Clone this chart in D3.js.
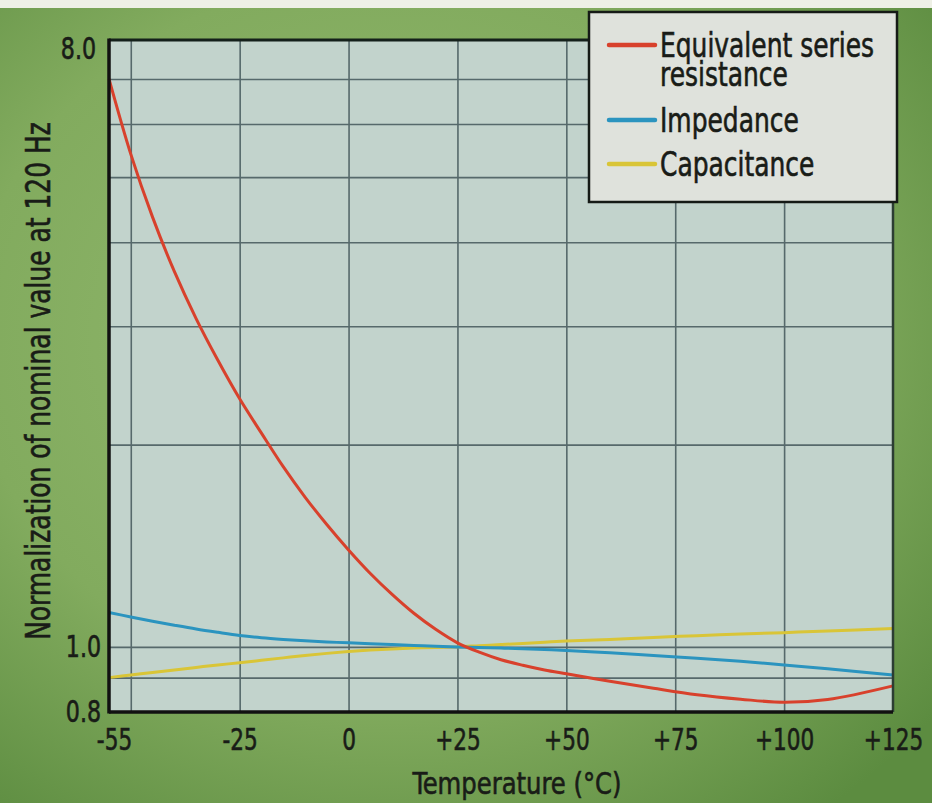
<!DOCTYPE html>
<html>
<head>
<meta charset="utf-8">
<script src="https://cdn.jsdelivr.net/npm/d3@7"></script>
<style>
  body { margin: 0; padding: 0; background: #7fa85e; }
  svg { display: block; }
  text {
    font-family: "Liberation Sans Narrow", "DejaVu Sans Condensed", "Roboto", sans-serif;
    fill: #191c17;
    stroke: #191c17;
    stroke-width: 0.6px;
  }
</style>
</head>
<body>
<div id="chart"></div>
<script>
// temperature in degC (x)
const temps = [-55, -50, -45, -40, -35, -30, -25, -20, -15, -10, -5, 0, 5, 10, 15, 20, 25, 30, 35, 40, 45, 50, 60, 70, 80, 90, 100, 110, 125];
// normalised values at 120 Hz, one per temperature
const esrValues = [7.0, 5.41, 4.36, 3.62, 3.08, 2.67, 2.34, 2.08, 1.854, 1.671, 1.521, 1.394, 1.286, 1.197, 1.122, 1.062, 1.014, 0.982, 0.957, 0.939, 0.924, 0.912, 0.889, 0.868, 0.849, 0.836, 0.827, 0.835, 0.875];
const impedanceValues = [1.125, 1.108, 1.092, 1.077, 1.063, 1.051, 1.04, 1.032, 1.026, 1.021, 1.017, 1.014, 1.011, 1.008, 1.005, 1.002, 1.0, 0.998, 0.996, 0.994, 0.991, 0.988, 0.98, 0.971, 0.962, 0.952, 0.94, 0.928, 0.908];
const capacitanceValues = [0.9, 0.908, 0.916, 0.924, 0.932, 0.94, 0.947, 0.955, 0.963, 0.971, 0.978, 0.984, 0.989, 0.993, 0.996, 0.998, 1.0, 1.004, 1.008, 1.012, 1.016, 1.02, 1.026, 1.033, 1.039, 1.045, 1.05, 1.056, 1.065];

const xTickLabels = [-55, -25, 0, 25, 50, 75, 100, 125];
const yTickLabels = [0.8, 1.0, 8.0];
const xGridValues = [-50, -25, 0, 25, 50, 75, 100];
const yGridValues = [0.9, 1, 2, 3, 4, 5, 6, 7];

const W = 932, H = 803;
const margin = { top: 40, right: 39, bottom: 91, left: 109 };
const innerW = W - margin.left - margin.right;
const innerH = H - margin.top - margin.bottom;

const colors = ["#d8412c", "#2b94bf", "#d9c537"];

// squeeze text to the narrow face of the original
function squeeze(sel, factor) {
  sel.each(function () {
    const w = this.getComputedTextLength();
    d3.select(this)
      .attr("textLength", w * factor)
      .attr("lengthAdjust", "spacingAndGlyphs");
  });
}

const svg = d3.select("#chart").append("svg")
  .attr("width", W)
  .attr("height", H);

// background - green page with darker edges
const defs = svg.append("defs");
const bg = defs.append("radialGradient").attr("id", "bg")
  .attr("cx", "42%").attr("cy", "42%").attr("r", "75%");
bg.append("stop").attr("offset", "0%").attr("stop-color", "#93b96f");
bg.append("stop").attr("offset", "60%").attr("stop-color", "#82ab5e");
bg.append("stop").attr("offset", "100%").attr("stop-color", "#5c8c40");

svg.append("rect").attr("width", W).attr("height", H).attr("fill", "url(#bg)");
svg.append("rect").attr("width", W).attr("height", 8).attr("fill", "#eef0e6");

const g = svg.append("g")
  .attr("transform", "translate(" + margin.left + "," + margin.top + ")");

const x = d3.scaleLinear().domain([-55, 125]).range([0, innerW]);
const y = d3.scaleLog().domain([0.8, 8]).range([innerH, 0]);

// plot area
g.append("rect")
  .attr("width", innerW)
  .attr("height", innerH)
  .attr("fill", "#c2d3cc");

// grid
g.append("g")
  .attr("class", "grid")
  .call(d3.axisLeft(y).tickValues(yGridValues).tickSize(-innerW).tickFormat(""))
  .call((s) => s.select(".domain").remove());
g.append("g")
  .attr("class", "grid")
  .attr("transform", "translate(0," + innerH + ")")
  .call(d3.axisBottom(x).tickValues(xGridValues).tickSize(-innerH).tickFormat(""))
  .call((s) => s.select(".domain").remove());
g.selectAll(".grid line")
  .attr("stroke", "#56696b")
  .attr("stroke-width", 1.6);

// curves
const line = d3.line()
  .x((d) => x(d[0]))
  .y((d) => y(d[1]))
  .curve(d3.curveCatmullRom.alpha(0.5));

const allSeries = [esrValues, impedanceValues, capacitanceValues];
// yellow first, then blue, red on top
[2, 1, 0].forEach(function (i) {
  g.append("path")
    .datum(temps.map((t, j) => [t, allSeries[i][j]]))
    .attr("fill", "none")
    .attr("stroke", colors[i])
    .attr("stroke-width", 3)
    .attr("d", line);
});

// frame
g.append("line").attr("x1", 0).attr("x2", innerW).attr("y1", 0).attr("y2", 0)
  .attr("stroke", "#14201a").attr("stroke-width", 3);
g.append("line").attr("x1", innerW).attr("x2", innerW).attr("y1", 0).attr("y2", innerH)
  .attr("stroke", "#2c3d33").attr("stroke-width", 2.5);
g.append("line").attr("x1", 0).attr("x2", 0).attr("y1", -1.5).attr("y2", innerH + 1.5)
  .attr("stroke", "#111").attr("stroke-width", 3.5);
g.append("line").attr("x1", 0).attr("x2", innerW).attr("y1", innerH).attr("y2", innerH)
  .attr("stroke", "#111").attr("stroke-width", 3.5);

// axis labels
const xAxis = g.append("g")
  .attr("transform", "translate(0," + innerH + ")")
  .call(d3.axisBottom(x).tickValues(xTickLabels).tickSize(0).tickPadding(17)
    .tickFormat((d) => (d > 0 ? "+" + d : String(d))));
xAxis.select(".domain").remove();
xAxis.selectAll("text")
  .attr("font-size", 30)
  .attr("font-family", null)
  .attr("fill", null)
  .attr("dy", "0.71em");
xAxis.selectAll(".tick").filter((d) => d === -55).select("text").attr("dx", 5);
squeeze(xAxis.selectAll("text"), 0.8);

const yAxis = g.append("g")
  .call(d3.axisLeft(y).tickValues(yTickLabels).tickSize(0).tickPadding(8)
    .tickFormat(d3.format(".1f")));
yAxis.select(".domain").remove();
yAxis.selectAll("text")
  .attr("font-size", 30)
  .attr("font-family", null)
  .attr("fill", null);
yAxis.selectAll(".tick").filter((d) => d === 8).select("text")
  .attr("dy", "0.6em")
  .attr("dx", -5);
squeeze(yAxis.selectAll("text"), 0.82);

// axis titles
const xTitle = svg.append("text")
  .attr("x", 517)
  .attr("y", 794)
  .attr("text-anchor", "middle")
  .attr("font-size", 30)
  .text("Temperature (°C)");
squeeze(xTitle, 0.9);

const yTitle = svg.append("text")
  .attr("transform", "translate(50,381) rotate(-90)")
  .attr("text-anchor", "middle")
  .attr("font-size", 33)
  .text("Normalization of nominal value at 120 Hz");
squeeze(yTitle, 0.84);

// legend
const legend = svg.append("g").attr("transform", "translate(589,12)");
legend.append("rect")
  .attr("width", 308)
  .attr("height", 190)
  .attr("fill", "#dfe2dc")
  .attr("stroke", "#151a16")
  .attr("stroke-width", 2.5);

const legendRows = [
  { lines: ["Equivalent series", "resistance"], y: 45 },
  { lines: ["Impedance"], y: 120 },
  { lines: ["Capacitance"], y: 164 },
];
legendRows.forEach(function (row, i) {
  legend.append("line")
    .attr("x1", 20).attr("x2", 66)
    .attr("y1", row.y - 12).attr("y2", row.y - 12)
    .attr("stroke", colors[i])
    .attr("stroke-width", 4.5)
    .attr("stroke-linecap", "round");
  row.lines.forEach(function (s, k) {
    const t = legend.append("text")
      .attr("x", 71)
      .attr("y", row.y + k * 29)
      .attr("font-size", 33)
      .text(s);
    squeeze(t, 0.84);
  });
});
</script>
</body>
</html>
